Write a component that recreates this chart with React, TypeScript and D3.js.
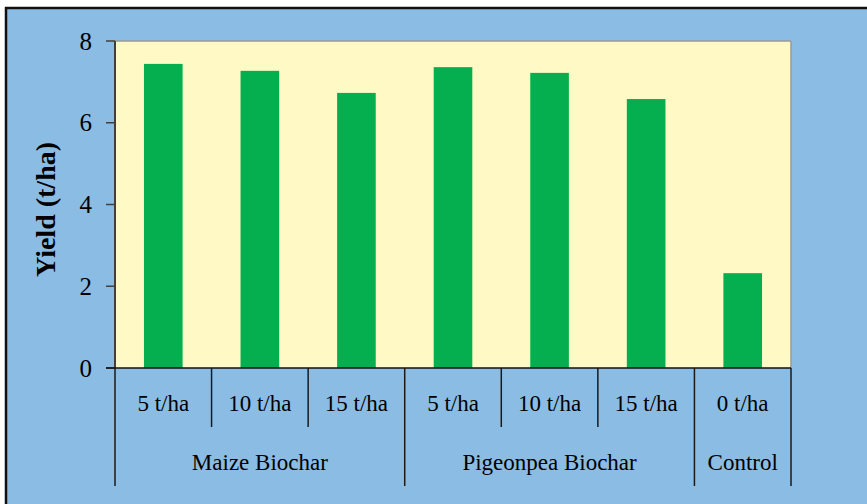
import React from "react";
import * as d3 from "d3";

const groups = ["Maize Biochar", "Pigeonpea Biochar", "Control"];
const groupSizes = [3, 3, 1];
const categories = ["5 t/ha", "10 t/ha", "15 t/ha", "5 t/ha", "10 t/ha", "15 t/ha", "0 t/ha"];
const yields = [7.44, 7.27, 6.73, 7.36, 7.22, 6.58, 2.32];
const yTicks = [0, 2, 4, 6, 8];

export default function App() {
  const W = 867, H = 504;
  const left = 115, right = 791, top = 41, bottom = 368;
  const idx = categories.map((_, i) => String(i));
  const x = d3.scaleBand().domain(idx).range([left, right]).paddingInner(0).paddingOuter(0);
  const y = d3.scaleLinear().domain([0, 8]).range([bottom, top]);
  const bw = x.bandwidth();
  const barW = bw * 0.4;

  const bounds: number[] = [0];
  groupSizes.reduce((acc, s) => { bounds.push(acc + s); return acc + s; }, 0);
  const bx = (i: number) => left + i * bw;

  const serif = '"Liberation Serif", "DejaVu Serif", "Times New Roman", serif';
  const ts = { fontFamily: serif };

  return (
    <svg width={W} height={H} style={{ position: "absolute", left: 0, top: 0, fontFamily: serif }}>
      <rect x={0} y={0} width={W} height={H} fill="#ffffff" />
      <rect x={6} y={8} width={W - 6} height={H - 8} fill="#8BBCE4" />
      <line x1={5} x2={W} y1={8} y2={8} stroke="#111" strokeWidth={2.5} />
      <line x1={6} x2={6} y1={7} y2={H} stroke="#111" strokeWidth={2.5} />

      <rect x={left} y={top} width={right - left} height={bottom - top} fill="#FFF9C5" />
      <line x1={left} x2={right} y1={top} y2={top} stroke="#999" strokeWidth={1.5} />
      <line x1={right} x2={right} y1={top} y2={bottom} stroke="#999" strokeWidth={1.5} />

      {yields.map((v, i) => (
        <rect key={i}
          x={(x(String(i)) as number) + (bw - barW) / 2}
          y={y(v)} width={barW} height={bottom - y(v)} fill="#05AF50" />
      ))}

      <line x1={left} x2={left} y1={top} y2={bottom} stroke="#404040" strokeWidth={2} />
      {yTicks.map((t) => (
        <g key={t}>
          <line x1={left - 9} x2={left} y1={y(t)} y2={y(t)} stroke="#404040" strokeWidth={1.5} />
          <text x={92} y={y(t)} dy="0.34em" textAnchor="end" fontSize={25} fill="#000" style={ts}>{t}</text>
        </g>
      ))}
      <text transform={`translate(45,${(top + bottom) / 2 + 5}) rotate(-90)`} textAnchor="middle"
        dy="0.34em" fontSize={28} fontWeight="bold" fill="#000" style={ts}>Yield (t/ha)</text>

      <line x1={left - 9} x2={right} y1={bottom} y2={bottom} stroke="#111" strokeWidth={1.5} />
      {d3.range(categories.length + 1).map((i) => {
        const isGroup = bounds.includes(i);
        return <line key={i} x1={bx(i)} x2={bx(i)} y1={bottom} y2={isGroup ? 486 : 427}
          stroke="#1a1a1a" strokeWidth={1.5} />;
      })}
      {categories.map((c, i) => (
        <text key={i} x={(x(String(i)) as number) + bw / 2} y={403} dy="0.34em" textAnchor="middle"
          fontSize={23} fill="#000" style={ts}>{c}</text>
      ))}
      {groups.map((g, gi) => (
        <text key={g} x={(bx(bounds[gi]) + bx(bounds[gi + 1])) / 2} y={462} dy="0.34em"
          textAnchor="middle" fontSize={23} fill="#000" style={ts}>{g}</text>
      ))}
    </svg>
  );
}
